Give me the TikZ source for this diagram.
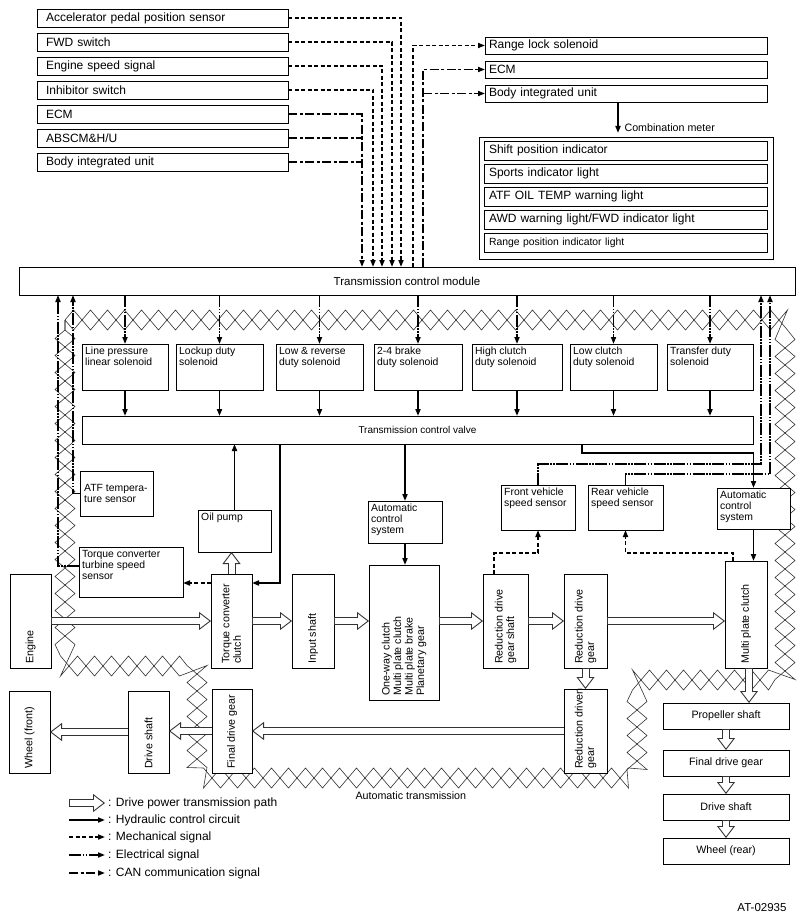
\documentclass[tikz,border=0pt]{standalone}
\usepackage{fontspec}
\setmainfont{Liberation Sans}
\usetikzlibrary{arrows.meta,positioning,decorations.pathmorphing}

\begin{document}
\begin{tikzpicture}[x=1pt, y=-1pt, node distance=6pt, >={Triangle[length=7pt,width=5pt]},
    blk/.style={draw, fill=white, line width=.8pt, inner sep=0pt, outer sep=0pt, anchor=north west},
    big/.style={font=\fontsize{12}{14}\selectfont},
    mid/.style={font=\fontsize{10.7}{11.5}\selectfont},
    sml/.style={font=\fontsize{10.4}{11}\selectfont},
    tl/.style={label={[anchor=north west, align=left, inner sep=3pt, sml]north west:#1}},
    ml/.style={label={[anchor=west, align=left, inner sep=4pt, sml]west:#1}},
    rl/.style={label={[rotate=90, anchor=west, align=left, inner sep=4pt, mid]south:#1}},
    inbox/.style={blk, big, align=left, minimum height=18pt, inner xsep=9pt, text width=233pt},
    outbox/.style={blk, big, align=left, minimum height=17pt, inner xsep=4pt, text width=274pt},
    meter/.style={blk, big, align=left, minimum height=19pt, inner xsep=5pt, text width=273pt},
    rear/.style={blk, mid, minimum width=126pt, minimum height=26pt},
    hyd/.style={line width=1.8pt, ->},
    mech/.style={line width=1.6pt, dash pattern=on 4pt off 2.5pt, ->},
    elec/.style={line width=1.6pt, dash pattern=on 12pt off 1.5pt on 1.5pt off 1.5pt on 1.5pt off 1.5pt, ->},
    can/.style={line width=1.6pt, dash pattern=on 9pt off 2.5pt on 3pt off 2.5pt, ->},
    pow/.style={line width=8pt, draw=black!80, -{Triangle[length=12pt,width=18pt,fill=white,line width=.9pt]},
      postaction={draw, white, line width=6pt, -, shorten >=11pt, shorten <=.5pt}},
    band/.style={draw=black!80, line width=.6pt, decorate, decoration={zigzag, segment length=34pt, amplitude=10pt}}]

  \path[use as bounding box, fill=white] (0,0) rectangle (806,923);

  % automatic transmission border
  \draw[band] (65,320) -- (785,320) -- (785,680) -- (637,680) -- (637,778) -- (197,778) -- (197,666) -- (65,666) -- cycle;
  \draw[band, decoration={mirror}] (65,320) -- (785,320) -- (785,680) -- (637,680) -- (637,778) -- (197,778) -- (197,666) -- (65,666) -- cycle;
  \node[mid, anchor=west] (atlbl) at (352,796) {Automatic transmission};

  % inputs
  \node[inbox] (acc) at (37,9) {Accelerator pedal position sensor};
  \node[inbox, below=of acc] (fwd) {FWD switch};
  \node[inbox, below=of fwd] (ess) {Engine speed signal};
  \node[inbox, below=of ess] (inh) {Inhibitor switch};
  \node[inbox, below=of inh] (ecmL) {ECM};
  \node[inbox, below=of ecmL] (abs) {ABSCM\&H/U};
  \node[inbox, below=of abs] (biuL) {Body integrated unit};

  % outputs
  \node[outbox] (rls) at (485,37) {Range lock solenoid};
  \node[outbox, below=7pt of rls] (ecmR) {ECM};
  \node[outbox, below=7pt of ecmR] (biuR) {Body integrated unit};
  \node[blk, minimum width=294pt, minimum height=122pt] (comb) at (479,137) {};
  \node[mid, anchor=west] (comblbl) at (621,128) {Combination meter};
  \node[meter] (spi) at (484,141) {Shift position indicator};
  \node[meter, below=4pt of spi] (sil) {Sports indicator light};
  \node[meter, below=4pt of sil] (atfl) {ATF OIL TEMP warning light};
  \node[meter, below=4pt of atfl] (awd) {AWD warning light/FWD indicator light};
  \node[meter, sml, below=4pt of awd] (rpi) {Range position indicator light};

  % control
  \node[blk, minimum width=776pt, minimum height=28pt, font=\fontsize{11.5}{13}\selectfont] (tcm) at (19,267) {Transmission control module};
  \node[blk, minimum width=86pt, minimum height=46pt, tl={Line pressure\\linear solenoid}] (lps) at (82,344) {};
  \node[blk, minimum width=87pt, minimum height=46pt, tl={Lockup duty\\solenoid}] (lud) at (176,344) {};
  \node[blk, minimum width=87pt, minimum height=46pt, tl={Low \& reverse\\duty solenoid}] (lrs) at (276,344) {};
  \node[blk, minimum width=88pt, minimum height=46pt, tl={2-4 brake\\duty solenoid}] (bds) at (374,344) {};
  \node[blk, minimum width=90pt, minimum height=46pt, tl={High clutch\\duty solenoid}] (hcs) at (472,344) {};
  \node[blk, minimum width=87pt, minimum height=46pt, tl={Low clutch\\duty solenoid}] (lcs) at (570,344) {};
  \node[blk, minimum width=86pt, minimum height=46pt, tl={Transfer duty\\solenoid}] (tds) at (667,344) {};
  \node[blk, minimum width=671pt, minimum height=28pt, font=\fontsize{10}{12}\selectfont] (tcv) at (82,416) {Transmission control valve};

  % sensors
  \node[blk, minimum width=73pt, minimum height=45pt, ml={ATF tempera-\\ture sensor}] (atf) at (80,471) {};
  \node[blk, minimum width=104pt, minimum height=50pt, tl={Torque converter\\turbine speed\\sensor}] (tts) at (79,547) {};
  \node[blk, minimum width=73pt, minimum height=42pt, tl={Oil pump}] (oil) at (198,510) {};
  \node[blk, minimum width=74pt, minimum height=42pt, tl={Automatic\\control\\system}] (acsL) at (368,501) {};
  \node[blk, minimum width=74pt, minimum height=45pt, tl={Front vehicle\\speed sensor}] (fvs) at (501,485) {};
  \node[blk, minimum width=75pt, minimum height=45pt, tl={Rear vehicle\\speed sensor}] (rvs) at (588,485) {};
  \node[blk, minimum width=73pt, minimum height=41pt, tl={Automatic\\control\\system}] (acsR) at (717,488) {};

  % drive line
  \node[blk, minimum width=41pt, minimum height=94pt, rl={Engine}] (engine) at (10,574) {};
  \node[blk, minimum width=41pt, minimum height=94pt, rl={Torque converter\\clutch}] (tcc) at (211,574) {};
  \node[blk, minimum width=42pt, minimum height=94pt, rl={Input shaft}] (ins) at (292,574) {};
  \node[blk, minimum width=70pt, minimum height=135pt, rl={One-way clutch\\Multi plate clutch\\Multi plate brake\\Planetary gear}] (pgs) at (369,565) {};
  \node[blk, minimum width=45pt, minimum height=94pt, rl={Reduction drive\\gear shaft}] (rdgs) at (483,574) {};
  \node[blk, minimum width=43pt, minimum height=94pt, rl={Reduction drive\\gear}] (rdg) at (564,574) {};
  \node[blk, minimum width=42pt, minimum height=107pt, rl={Multi plate clutch}] (mpc) at (725,561) {};
  \node[blk, minimum width=43pt, minimum height=84pt, rl={Reduction driven\\gear}] (rdn) at (564,689) {};
  \node[blk, minimum width=40pt, minimum height=84pt, rl={Final drive gear}] (fdgF) at (212,689) {};
  \node[blk, minimum width=41pt, minimum height=82pt, rl={Drive shaft}] (dsF) at (128,691) {};
  \node[blk, minimum width=41pt, minimum height=82pt, rl={Wheel (front)}] (wheelF) at (9,691) {};
  \node[rear] (prop) at (663,703) {Propeller shaft};
  \node[rear, below=21pt of prop] (fdgR) {Final drive gear};
  \node[rear, below=18pt of fdgR] (dsR) {Drive shaft};
  \node[rear, below=18pt of dsR] (wheelR) {Wheel (rear)};

  % signals into the TCM
  \draw[mech] (acc.east) -| ([xshift=382pt]tcm.north west);
  \draw[mech] (fwd.east) -| ([xshift=373pt]tcm.north west);
  \draw[mech] (ess.east) -| ([xshift=363pt]tcm.north west);
  \draw[mech] (inh.east) -| ([xshift=354pt]tcm.north west);
  \coordinate (canIn) at ([xshift=343pt]tcm.north west);
  \draw[can] (ecmL.east) -| (canIn);
  \draw[can,-] (abs.east) -- (abs.east -| canIn);
  \draw[can,-] (biuL.east) -- (biuL.east -| canIn);

  % signals out of the TCM
  \draw[mech] ([xshift=394pt]tcm.north west) |- (rls.west);
  \coordinate (canOut) at ([xshift=404pt]tcm.north west);
  \draw[can] (canOut) |- (ecmR.west);
  \draw[can] (canOut |- biuR.west) -- (biuR.west);
  \draw[hyd] ([xshift=-8pt]biuR.south) -- ([xshift=-8pt,yshift=4pt]comb.north);

  % solenoids
  \draw[elec] (lps.north |- tcm.south) -- (lps.north);
  \draw[elec] (lud.north |- tcm.south) -- (lud.north);
  \draw[elec] (lrs.north |- tcm.south) -- (lrs.north);
  \draw[elec] (bds.north |- tcm.south) -- (bds.north);
  \draw[elec] (hcs.north |- tcm.south) -- (hcs.north);
  \draw[elec] (lcs.north |- tcm.south) -- (lcs.north);
  \draw[elec] (tds.north |- tcm.south) -- (tds.north);
  \draw[hyd] (lps.south) -- (lps.south |- tcv.north);
  \draw[hyd] (lud.south) -- (lud.south |- tcv.north);
  \draw[hyd] (lrs.south) -- (lrs.south |- tcv.north);
  \draw[hyd] (bds.south) -- (bds.south |- tcv.north);
  \draw[hyd] (hcs.south) -- (hcs.south |- tcv.north);
  \draw[hyd] (lcs.south) -- (lcs.south |- tcv.north);
  \draw[hyd] (tds.south) -- (tds.south |- tcv.north);

  % sensor lines
  \draw[elec] (atf.west) -| ([xshift=54pt]tcm.south west);
  \draw[elec] ([yshift=6pt]tts.west) -| ([xshift=39pt]tcm.south west);
  \coordinate (fvsBend) at (761,464);
  \coordinate (rvsBend) at (770,474);
  \draw[elec] (fvs.north) |- (fvsBend) -- (fvsBend |- tcm.south);
  \draw[elec] (rvs.north) |- (rvsBend) -- (rvsBend |- tcm.south);

  % hydraulic circuit
  \draw[hyd] (oil.north) -- (oil.north |- tcv.south);
  \coordinate (hydL) at (280,583);
  \draw[hyd] (hydL |- tcv.south) -- (hydL) -- (hydL -| tcc.east);
  \draw[mech] (tcc.west |- hydL) -- (tts.east |- hydL);
  \draw[hyd] (acsL.north |- tcv.south) -- (acsL.north);
  \draw[hyd] (acsL.south) -- (acsL.south |- pgs.north);
  \coordinate (hydR) at (582,453);
  \draw[hyd] (hydR |- tcv.south) -- (hydR) -| (acsR.north);
  \draw[hyd] (acsR.south) -- (acsR.south |- mpc.north);

  % speed pick-up
  \coordinate (fvsM) at (494,553);
  \draw[mech] (fvsM |- rdgs.north) -- (fvsM) -| (fvs.south);
  \coordinate (rvsM) at (733,553);
  \draw[mech] (rvsM |- mpc.north) -- (rvsM) -| (rvs.south);

  % drive power
  \draw[pow] (engine.east) -- (engine.east -| tcc.west);
  \draw[pow] (tcc.north) -- (tcc.north |- oil.south);
  \draw[pow] (tcc.east) -- (tcc.east -| ins.west);
  \draw[pow] (ins.east) -- (ins.east -| pgs.west);
  \draw[pow] (rdgs.west -| pgs.east) -- (rdgs.west);
  \draw[pow] (rdgs.east) -- (rdg.west);
  \draw[pow] (rdg.east) -- (rdg.east -| mpc.west);
  \draw[pow] (rdg.south) -- (rdn.north);
  \draw[pow] (rdn.west) -- (rdn.west -| fdgF.east);
  \draw[pow] (fdgF.west) -- (fdgF.west -| dsF.east);
  \draw[pow] (dsF.west) -- (dsF.west -| wheelF.east);
  \draw[pow] ([xshift=3pt]mpc.south) -- ([xshift=3pt]mpc.south |- prop.north);
  \draw[pow] (prop.south) -- (fdgR.north);
  \draw[pow] (fdgR.south) -- (dsR.north);
  \draw[pow] (dsR.south) -- (wheelR.north);

  % legend
  \node[big, anchor=west, inner sep=0pt] (lg1) at (108,803) {: Drive power transmission path};
  \node[big, anchor=west, inner sep=0pt] (lg2) at (108,820) {: Hydraulic control circuit};
  \node[big, anchor=west, inner sep=0pt] (lg3) at (108,837) {: Mechanical signal};
  \node[big, anchor=west, inner sep=0pt] (lg4) at (108,855) {: Electrical signal};
  \node[big, anchor=west, inner sep=0pt] (lg5) at (108,873) {: CAN communication signal};
  \draw[pow] ([xshift=-39pt]lg1.west) -- ([xshift=-3pt]lg1.west);
  \draw[hyd] ([xshift=-39pt]lg2.west) -- ([xshift=-3pt]lg2.west);
  \draw[mech] ([xshift=-39pt]lg3.west) -- ([xshift=-3pt]lg3.west);
  \draw[elec] ([xshift=-39pt]lg4.west) -- ([xshift=-3pt]lg4.west);
  \draw[can] ([xshift=-39pt]lg5.west) -- ([xshift=-3pt]lg5.west);

  \node[font=\fontsize{11.5}{13}\selectfont, anchor=east] (code) at (790,908) {AT-02935};
\end{tikzpicture}
\end{document}
